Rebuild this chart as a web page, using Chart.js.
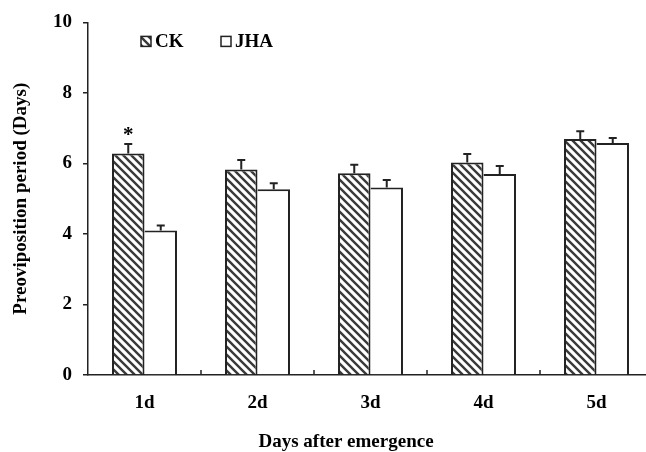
<!DOCTYPE html>
<html>
<head>
<meta charset="utf-8">
<script src="https://cdn.jsdelivr.net/npm/chart.js@4.4.0/dist/chart.umd.min.js"></script>
<style>
    html, body { margin: 0; padding: 0; background: #fff; overflow: hidden; }
    #wrap { width: 653px; height: 452px; }
</style>
</head>
<body>
<div id="wrap"><canvas id="chart" width="653" height="452"></canvas></div>
<script>
// data
const categories = ['1d', '2d', '3d', '4d', '5d'];
const ckValues = [6.28, 5.83, 5.72, 6.03, 6.69];
const ckErrors = [0.27, 0.27, 0.24, 0.24, 0.22];
const jhaValues = [4.10, 5.27, 5.32, 5.70, 6.58];
const jhaErrors = [0.14, 0.17, 0.21, 0.23, 0.14];
const ckMarks = ['*', '', '', '', ''];
const yTicks = [0, 2, 4, 6, 8, 10];

const SERIF = '"Liberation Serif", "Times New Roman", serif';
const INK = '#222';

function makeHatch() {
    const s = 8;
    const c = document.createElement('canvas');
    c.width = s; c.height = s;
    const g = c.getContext('2d');
    g.fillStyle = '#fff';
    g.fillRect(0, 0, s, s);
    g.strokeStyle = '#3a3a3a';
    g.lineWidth = 2.4;
    g.beginPath();
    g.moveTo(-2, -2); g.lineTo(s + 2, s + 2);
    g.moveTo(-2, s - 2); g.lineTo(2, s + 2);
    g.moveTo(s - 2, -2); g.lineTo(s + 2, 2);
    g.stroke();
    return g.createPattern(c, 'repeat');
}
const hatch = makeHatch();
const errorSets = [ckErrors, jhaErrors];
const markSets = [ckMarks, null];

// error bars (upper only) and significance marks
const errorBars = {
    id: 'errorBars',
    afterDatasetsDraw(chart) {
        const ctx = chart.ctx;
        const y = chart.scales.y;
        chart.data.datasets.forEach((ds, di) => {
            const meta = chart.getDatasetMeta(di);
            meta.data.forEach((bar, i) => {
                const top = y.getPixelForValue(ds.data[i] + errorSets[di][i]);
                ctx.save();
                ctx.strokeStyle = INK;
                ctx.lineWidth = 2;
                ctx.beginPath();
                ctx.moveTo(bar.x, bar.y);
                ctx.lineTo(bar.x, top);
                ctx.moveTo(bar.x - 4, top);
                ctx.lineTo(bar.x + 4, top);
                ctx.stroke();
                const marks = markSets[di];
                if (marks && marks[i]) {
                    ctx.fillStyle = '#000';
                    ctx.font = 'bold 21px ' + SERIF;
                    ctx.textAlign = 'center';
                    ctx.textBaseline = 'alphabetic';
                    ctx.fillText(marks[i], bar.x, top - 3);
                }
                ctx.restore();
            });
        });
    }
};

// short tick marks pointing up at category boundaries
const innerTicks = {
    id: 'innerTicks',
    afterDraw(chart) {
        const ctx = chart.ctx;
        const x = chart.scales.x;
        const bottom = chart.chartArea.bottom;
        ctx.save();
        ctx.strokeStyle = INK;
        ctx.lineWidth = 1.5;
        for (let i = 1; i < categories.length; i++) {
            const px = (x.getPixelForValue(i - 1) + x.getPixelForValue(i)) / 2;
            ctx.beginPath();
            ctx.moveTo(px, bottom);
            ctx.lineTo(px, bottom - 5);
            ctx.stroke();
        }
        ctx.restore();
    }
};

// legend inside the plot + x axis title
const legendAndTitle = {
    id: 'legendAndTitle',
    afterDraw(chart) {
        const ctx = chart.ctx;
        const area = chart.chartArea;
        ctx.save();
        ctx.font = 'bold 19px ' + SERIF;
        ctx.textBaseline = 'middle';
        ctx.textAlign = 'left';
        chart.data.datasets.forEach((ds, i) => {
            const bx = area.left + 53 + i * 80;
            const by = area.top + 14;
            ctx.fillStyle = ds.backgroundColor;
            ctx.fillRect(bx, by, 10, 10);
            ctx.strokeStyle = INK;
            ctx.lineWidth = 1.5;
            ctx.strokeRect(bx, by, 10, 10);
            ctx.fillStyle = '#000';
            ctx.fillText(ds.label, bx + 14, by + 6);
        });

        ctx.font = 'bold 19px ' + SERIF;
        ctx.textAlign = 'center';
        ctx.fillText('Days after emergence', area.left + 258, 442);
        ctx.restore();
    }
};

const chart = new Chart(document.getElementById('chart').getContext('2d'), {
    type: 'bar',
    data: {
        labels: categories,
        datasets: [{
            label: 'CK',
            data: ckValues,
            backgroundColor: hatch,
            borderColor: INK,
            borderWidth: { top: 2, left: 2, right: 2, bottom: 0 }
        }, {
            label: 'JHA',
            data: jhaValues,
            backgroundColor: '#fff',
            borderColor: INK,
            borderWidth: { top: 2, left: 0, right: 2, bottom: 0 }
        }]
    },
    options: {
        responsive: false,
        animation: false,
        devicePixelRatio: 1,
        layout: { padding: { top: 18, left: 0, right: 0, bottom: 0 } },
        datasets: {
            bar: { categoryPercentage: 0.575, barPercentage: 1.0, borderSkipped: false }
        },
        plugins: {
            legend: { display: false },
            tooltip: { enabled: false }
        },
        scales: {
            x: {
                afterFit: (s) => { s.height = 77; },
                grid: { display: false },
                border: { display: true, color: INK, width: 1.5 },
                ticks: {
                    color: '#000',
                    padding: 9,
                    font: { family: SERIF, size: 19, weight: 'bold' }
                }
            },
            y: {
                min: 0,
                max: 10,
                afterFit: (s) => { s.width = 88; },
                afterBuildTicks: (s) => { s.ticks = yTicks.map(v => ({ value: v })); },
                grid: { drawOnChartArea: false, drawTicks: true, tickLength: 5, color: INK, lineWidth: 1.5 },
                border: { display: true, color: INK, width: 1.5 },
                ticks: {
                    color: '#000',
                    padding: 11,
                    font: { family: SERIF, size: 19, weight: 'bold' }
                },
                title: {
                    display: true,
                    text: 'Preoviposition period (Days)',
                    color: '#000',
                    padding: { top: 10, bottom: 0 },
                    font: { family: SERIF, size: 19, weight: 'bold' }
                }
            }
        }
    },
    plugins: [errorBars, innerTicks, legendAndTitle]
});
</script>
</body>
</html>
